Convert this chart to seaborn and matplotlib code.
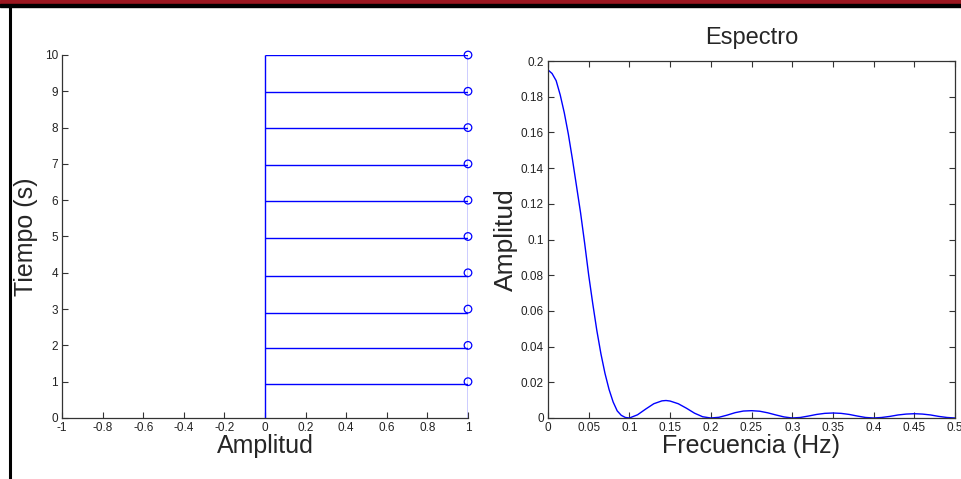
import numpy as np
import pandas as pd
import matplotlib
matplotlib.use("Agg")
import matplotlib.pyplot as plt
from matplotlib.lines import Line2D
from matplotlib.patches import Rectangle
import seaborn as sns

# ---------------- data ----------------
# left panel: pulse samples (time in s, amplitude)
tiempo = [1, 2, 3, 4, 5, 6, 7, 8, 9, 10]
amplitud_pulso = [1, 1, 1, 1, 1, 1, 1, 1, 1, 1]
stem_y = [0.95, 1.92, 2.9, 3.92, 4.95, 5.98, 6.97, 7.99, 8.98, 10.0]

left_xticks = [-1, -0.8, -0.6, -0.4, -0.2, 0, 0.2, 0.4, 0.6, 0.8, 1]
left_xticklabels = ["-1", "-0.8", "-0.6", "-0.4", "-0.2", "0", "0.2", "0.4", "0.6", "0.8", "1"]
left_yticks = [0, 1, 2, 3, 4, 5, 6, 7, 8, 9, 10]

# right panel: spectrum
frecuencia = [0, 0.005, 0.01, 0.015, 0.02, 0.025, 0.03, 0.035, 0.04, 0.045, 0.05,
              0.055, 0.06, 0.065, 0.07, 0.075, 0.08, 0.085, 0.09, 0.095, 0.1,
              0.11, 0.12, 0.13, 0.14, 0.145, 0.15, 0.16, 0.17, 0.18, 0.19, 0.2,
              0.21, 0.22, 0.23, 0.24, 0.25, 0.26, 0.27, 0.28, 0.29, 0.3,
              0.31, 0.32, 0.33, 0.34, 0.35, 0.36, 0.37, 0.38, 0.39, 0.4,
              0.41, 0.42, 0.43, 0.44, 0.45, 0.46, 0.47, 0.48, 0.49, 0.5]
espectro = [0.195, 0.193, 0.189, 0.181, 0.171, 0.159, 0.145, 0.130, 0.115, 0.098, 0.080,
            0.064, 0.049, 0.036, 0.025, 0.016, 0.009, 0.004, 0.0015, 0.0003, 0.0,
            0.0018, 0.0050, 0.0080, 0.0096, 0.0098, 0.0095, 0.0080, 0.0055, 0.0027, 0.0007, 0.0,
            0.0004, 0.0016, 0.0030, 0.0039, 0.0041, 0.0038, 0.0029, 0.0017, 0.0006, 0.0,
            0.0003, 0.0011, 0.0020, 0.0026, 0.0028, 0.0026, 0.0020, 0.0011, 0.0003, 0.0,
            0.0003, 0.0009, 0.0017, 0.0022, 0.0024, 0.0022, 0.0017, 0.0009, 0.0003, 0.0]

right_xticks = [0, 0.05, 0.1, 0.15, 0.2, 0.25, 0.3, 0.35, 0.4, 0.45, 0.5]
right_xticklabels = ["0", "0.05", "0.1", "0.15", "0.2", "0.25", "0.3", "0.35", "0.4", "0.45", "0.5"]
right_yticks = [0, 0.02, 0.04, 0.06, 0.08, 0.1, 0.12, 0.14, 0.16, 0.18, 0.2]
right_yticklabels = ["0", "0.02", "0.04", "0.06", "0.08", "0.1", "0.12", "0.14", "0.16", "0.18", "0.2"]

# ---------------- style ----------------
sns.set_theme(style="white")
plt.rcParams["font.family"] = ["Liberation Sans", "DejaVu Sans"]

BLUE = "#0000ff"
TICKC = "#333333"
fig = plt.figure(figsize=(9.62, 4.79), dpi=100)

# slide decorations
fig.patches.append(Rectangle((0, 1 - 4 / 479), 1, 4 / 479, transform=fig.transFigure,
                             color="#9b1720", zorder=0))
fig.patches.append(Rectangle((0, 1 - 6.5 / 479), 1, 2.5 / 479, transform=fig.transFigure,
                             color="black", zorder=0))
fig.lines.append(Line2D([9.5 / 962, 9.5 / 962], [0, 1 - 6 / 479], transform=fig.transFigure,
                        color="black", lw=2.2))

TICK_FS = 8.5
XLABEL_FS = 18
YLABEL_FS = 19

# ---------------- left panel ----------------
ax1 = fig.add_axes([62 / 962, 1 - 418 / 479, (468 - 62) / 962, (418 - 55) / 479])
ax1.hlines(stem_y, 0, amplitud_pulso, color=BLUE, lw=1.0)
ax1.vlines([0], 0, 10, color=BLUE, lw=1.0)
ax1.vlines([1], 0, 10, color=BLUE, lw=1.0)
pulse_df = pd.DataFrame({"amp": amplitud_pulso, "t": tiempo})
sns.scatterplot(data=pulse_df, x="amp", y="t", ax=ax1, marker="o", s=30,
                facecolor="none", edgecolor=BLUE, linewidth=0.9, zorder=5, clip_on=False)
ax1.set_xlim(-1, 1)
ax1.set_ylim(0, 10)
ax1.set_xticks(left_xticks)
ax1.set_xticklabels(left_xticklabels)
ax1.set_yticks(left_yticks)
ax1.set_yticklabels([str(v) for v in left_yticks])
for s in ["top", "right"]:
    ax1.spines[s].set_visible(False)
for s in ["left", "bottom"]:
    ax1.spines[s].set_color(TICKC)
    ax1.spines[s].set_linewidth(0.9)
ax1.tick_params(axis="both", direction="in", labelsize=TICK_FS, length=4, width=0.8,
                color=TICKC, labelcolor="#222222", pad=3, bottom=True, left=True)
ax1.set_xlabel("Amplitud", fontsize=XLABEL_FS, labelpad=0)
ax1.set_ylabel("Tiempo (s)", fontsize=18, labelpad=5)

# ---------------- right panel ----------------
ax2 = fig.add_axes([548 / 962, 1 - 418 / 479, (955 - 548) / 962, (418 - 61) / 479])
spec_df = pd.DataFrame({"f": frecuencia, "a": espectro})
sns.lineplot(data=spec_df, x="f", y="a", ax=ax2, color=BLUE, lw=1.0)
ax2.set_xlim(0, 0.5)
ax2.set_ylim(0, 0.2)
ax2.set_xticks(right_xticks)
ax2.set_xticklabels(right_xticklabels)
ax2.set_yticks(right_yticks)
ax2.set_yticklabels(right_yticklabels)
for s in ax2.spines.values():
    s.set_visible(True)
    s.set_color(TICKC)
    s.set_linewidth(0.9)
ax2.tick_params(axis="both", direction="in", labelsize=TICK_FS, length=4, width=0.8,
                color=TICKC, labelcolor="#222222", pad=3,
                bottom=True, left=True, top=True, right=True)
ax2.set_xlabel("Frecuencia (Hz)", fontsize=XLABEL_FS, labelpad=0)
ax2.set_ylabel("Amplitud", fontsize=YLABEL_FS, labelpad=2)
ax2.set_title("Espectro", fontsize=17, pad=12)

fig.savefig("out.png", dpi=100)
